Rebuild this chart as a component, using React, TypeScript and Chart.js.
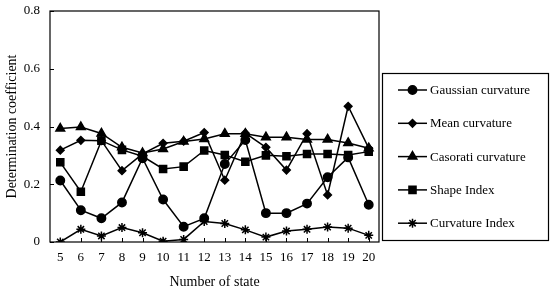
import React, { useEffect, useRef } from 'react';
import { Chart, registerables } from 'chart.js';
import { drawPoint } from 'chart.js/helpers';

Chart.register(...registerables);

const states = ['5', '6', '7', '8', '9', '10', '11', '12', '13', '14', '15', '16', '17', '18', '19', '20'];
const yTicks = [0, 0.2, 0.4, 0.6, 0.8];

const gaussian = [0.213, 0.11, 0.082, 0.137, 0.29, 0.147, 0.053, 0.082, 0.27, 0.353, 0.1, 0.1, 0.133, 0.224, 0.293, 0.129];
const mean = [0.318, 0.352, 0.351, 0.247, 0.305, 0.342, 0.349, 0.379, 0.214, 0.377, 0.328, 0.249, 0.375, 0.163, 0.47, 0.325];
const casorati = [0.393, 0.398, 0.376, 0.328, 0.308, 0.322, 0.348, 0.357, 0.375, 0.375, 0.363, 0.363, 0.355, 0.355, 0.343, 0.325];
const shapeIndex = [0.276, 0.174, 0.351, 0.319, 0.297, 0.253, 0.261, 0.317, 0.301, 0.278, 0.3, 0.297, 0.305, 0.305, 0.301, 0.313];
const curvatureIndex = [0.0, 0.044, 0.021, 0.05, 0.032, 0.003, 0.009, 0.071, 0.064, 0.042, 0.017, 0.038, 0.044, 0.052, 0.048, 0.023];

const seriesNames = ['Gaussian curvature', 'Mean curvature', 'Casorati curvature', 'Shape Index', 'Curvature Index'];
const seriesData = [gaussian, mean, casorati, shapeIndex, curvatureIndex];
const seriesMarkers = ['circle', 'rectRot', 'triangle', 'rect', 'star'];
const markerRadius = [4.2, 3.8, 5, 5, 4.5];

const FONT = '"Liberation Serif", "Times New Roman", serif';

const framePlugin = {
  id: 'frame',
  afterDraw(chart: any) {
    const { ctx, chartArea } = chart;
    const x = chart.scales.x;
    const y = chart.scales.y;
    ctx.save();
    ctx.strokeStyle = '#000';
    ctx.lineWidth = 1.2;
    ctx.strokeRect(chartArea.left, chartArea.top, chartArea.right - chartArea.left, chartArea.bottom - chartArea.top);
    ctx.lineWidth = 1;
    ctx.beginPath();
    y.ticks.forEach((t: any) => {
      const py = Math.round(y.getPixelForValue(t.value)) + 0.5;
      ctx.moveTo(chartArea.left, py);
      ctx.lineTo(chartArea.left + 4, py);
    });
    states.forEach((_, i) => {
      const px = Math.round(x.getPixelForValue(i)) + 0.5;
      ctx.moveTo(px, chartArea.bottom);
      ctx.lineTo(px, chartArea.bottom - 4);
    });
    ctx.stroke();

    // legend
    const lx = 382.5, ly = 73.5, lw = 166, lh = 167;
    ctx.lineWidth = 1.2;
    ctx.strokeRect(lx, ly, lw, lh);
    ctx.font = '13px ' + FONT;
    ctx.fillStyle = '#000';
    ctx.textBaseline = 'middle';
    ctx.textAlign = 'left';
    seriesNames.forEach((name, i) => {
      const cy = 90 + i * 33.3;
      ctx.beginPath();
      ctx.lineWidth = 1.5;
      ctx.moveTo(398, cy);
      ctx.lineTo(427, cy);
      ctx.stroke();
      ctx.fillStyle = '#000';
      ctx.strokeStyle = '#000';
      ctx.lineWidth = 1.5;
      drawPoint(ctx, { pointStyle: seriesMarkers[i], radius: markerRadius[i], rotation: 0, borderWidth: 1.5 }, 412.5, cy);
      ctx.fillText(name, 430, cy + 0.5);
    });
    ctx.restore();
  },
};

export default function App() {
  const ref = useRef<HTMLCanvasElement | null>(null);
  useEffect(() => {
    document.body.style.margin = '0';
    const chart = new Chart(ref.current as HTMLCanvasElement, {
      type: 'line',
      data: {
        labels: states,
        datasets: seriesData.map((d, i) => ({
          label: seriesNames[i],
          data: d,
          borderColor: '#000',
          backgroundColor: '#000',
          borderWidth: 1.5,
          pointStyle: seriesMarkers[i] as any,
          pointRadius: markerRadius[i],
          pointBorderWidth: 1.5,
          pointBackgroundColor: '#000',
          pointBorderColor: '#000',
          tension: 0,
        })),
      },
      options: {
        responsive: false,
        animation: false,
        layout: { padding: { left: 0, top: 11, right: 171, bottom: 0 } },
        plugins: { legend: { display: false }, tooltip: { enabled: false } },
        scales: {
          x: {
            type: 'category',
            offset: true,
            grid: { display: true, drawOnChartArea: false, drawTicks: false },
            border: { display: false },
            ticks: { color: '#000', font: { family: FONT, size: 13 }, padding: 8, maxRotation: 0, autoSkip: false },
            title: { display: true, text: 'Number of state', color: '#000', font: { family: FONT, size: 14 }, padding: { top: 4, bottom: 0 } },
            afterFit: (s: any) => { s.height = 49; s.paddingLeft = 0; s.paddingRight = 0; },
          },
          y: {
            min: 0,
            max: 0.8,
            afterBuildTicks: (s: any) => { s.ticks = yTicks.map((v) => ({ value: v })); },
            grid: { display: true, drawOnChartArea: false, drawTicks: false },
            border: { display: false },
            ticks: {
              color: '#000',
              font: { family: FONT, size: 13 },
              padding: 10,
              callback: (v: any) => String(Math.round(Number(v) * 10) / 10),
            },
            title: { display: true, text: 'Determination coefficient', color: '#000', font: { family: FONT, size: 14 }, padding: { top: 4, bottom: 0 } },
            afterFit: (s: any) => { s.width = 50; s.paddingTop = 0; s.paddingBottom = 0; },
          },
        },
      },
      plugins: [framePlugin],
    });
    return () => chart.destroy();
  }, []);
  return (
    <div style={{ position: 'fixed', left: 0, top: 0, width: 550, height: 291, background: '#fff' }}>
      <canvas ref={ref} width={550} height={291} />
    </div>
  );
}
